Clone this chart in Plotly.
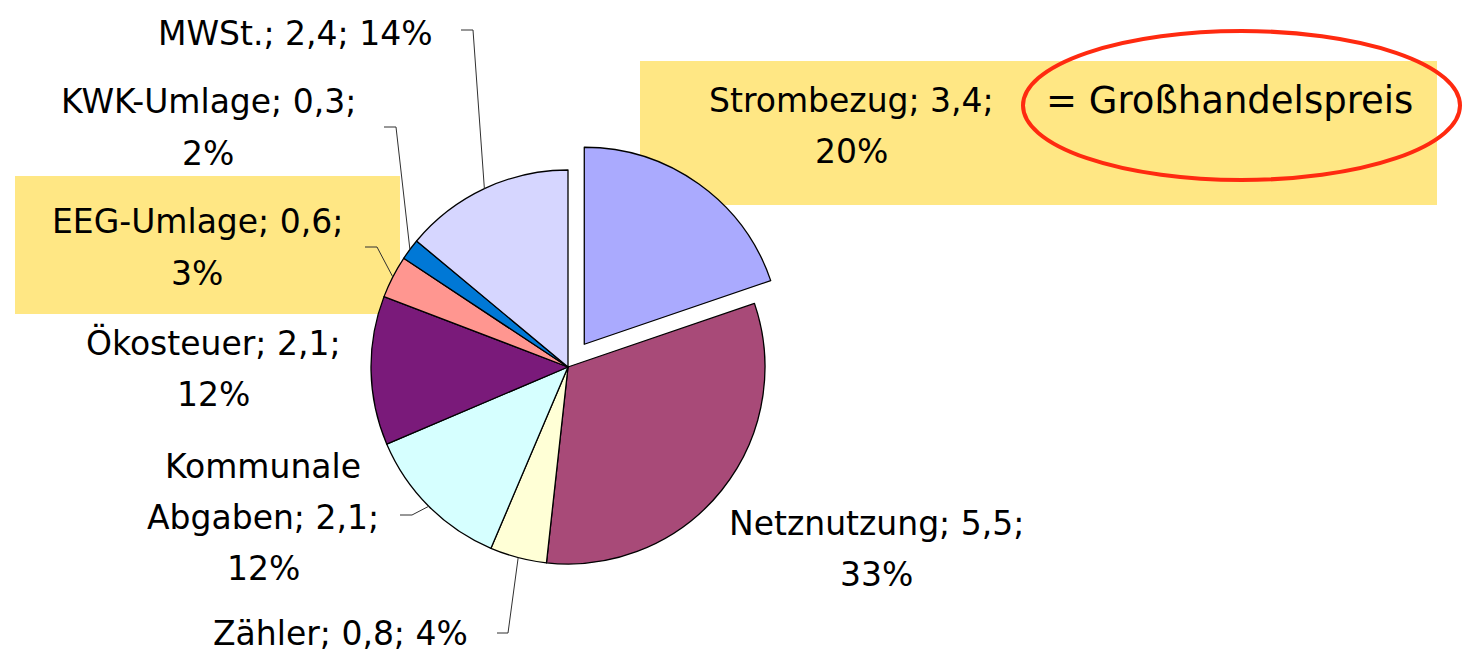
import math
import plotly.graph_objects as go

# ---------------- data ----------------
categories = ["Strombezug", "Netznutzung", "Zähler", "Kommunale Abgaben",
              "Ökosteuer", "EEG-Umlage", "KWK-Umlage", "MWSt."]
values = [3.4, 5.5, 0.8, 2.1, 2.1, 0.6, 0.3, 2.4]
percents = [20, 33, 4, 12, 12, 3, 2, 14]
note_text = "= Großhandelspreis"

# ---------------- style / layout ----------------
W, H = 1463, 654
colors = ["#AAAAFE", "#A84A78", "#FFFFD6", "#D6FFFF",
          "#7A1A7A", "#FF9690", "#0078D6", "#D6D6FF"]
pulls = [0.142, 0, 0, 0, 0, 0, 0, 0]
FONT = "DejaVu Sans"
FS = 33
LINE_H = 51

# pie geometry (pixels)
PCX, PCY, PR = 568, 367, 197
half = PR * (1 + max(pulls))


def px(x):
    return x / W


def py(y):
    return 1 - y / H


# label placement: centre x, first-line y, tokens per line
label_layout = {
    "Strombezug": (851, 100, [2, 1]),
    "Netznutzung": (876, 523, [2, 1]),
    "Zähler": (340, 633, [3]),
    "Kommunale Abgaben": (263, 466, [1, 2, 1]),
    "Ökosteuer": (213, 343, [2, 1]),
    "EEG-Umlage": (197, 222, [2, 1]),
    "KWK-Umlage": (208, 102, [2, 1]),
    "MWSt.": (295, 33, [3]),
}
# leader lines: text-side start x, elbow x, y
leader_layout = {
    "MWSt.": (461, 473, 30),
    "KWK-Umlage": (384, 396, 127),
    "EEG-Umlage": (365, 377, 247),
    "Kommunale Abgaben": (400, 412, 515),
    "Zähler": (497, 508, 633),
}


def fmt(v):
    return f"{v:.1f}".replace(".", ",")


fig = go.Figure()
fig.add_trace(go.Pie(
    labels=categories, values=values, sort=False, direction="clockwise",
    rotation=0, pull=pulls, textinfo="none", hoverinfo="label+value+percent",
    marker=dict(colors=colors, line=dict(color="#000000", width=1.3)),
    showlegend=False,
    domain=dict(x=[px(PCX - half), px(PCX + half)],
                y=[py(PCY + half), py(PCY - half)]),
))

shapes = []
annotations = []

# highlight boxes
shapes.append(dict(type="rect", xref="paper", yref="paper", layer="below",
                   x0=px(15), x1=px(400), y0=py(314), y1=py(176),
                   fillcolor="#FFE784", line=dict(width=0)))
shapes.append(dict(type="rect", xref="paper", yref="paper", layer="below",
                   x0=px(640), x1=px(1437), y0=py(205), y1=py(61),
                   fillcolor="#FFE784", line=dict(width=0)))
# red ellipse
shapes.append(dict(type="circle", xref="paper", yref="paper", layer="above",
                   x0=px(1023), x1=px(1460), y0=py(180), y1=py(31),
                   line=dict(color="#FF2A10", width=4)))

total = sum(values)
cum = 0.0
for cat, val, pct in zip(categories, values, percents):
    mid = (cum + val / 2) / total * 2 * math.pi
    cum += val
    text = f"{cat}; {fmt(val)}; {pct}%"
    tokens = text.split(" ")
    cx, y0, groups = label_layout[cat]
    i = 0
    for li, n in enumerate(groups):
        line = " ".join(tokens[i:i + n])
        i += n
        annotations.append(dict(
            x=px(cx), y=py(y0 + li * LINE_H), xref="paper", yref="paper",
            text=line, showarrow=False, xanchor="center", yanchor="middle",
            font=dict(family=FONT, size=FS, color="#000000")))
    if cat in leader_layout:
        sx, ex, ly = leader_layout[cat]
        ptx = PCX + PR * math.sin(mid)
        pty = PCY - PR * math.cos(mid)
        path = (f"M {px(sx)},{py(ly)} L {px(ex)},{py(ly)} "
                f"L {px(ptx)},{py(pty)}")
        shapes.append(dict(type="path", xref="paper", yref="paper",
                           path=path, line=dict(color="#303030", width=1)))

annotations.append(dict(
    x=px(1229), y=py(100), xref="paper", yref="paper", text=note_text,
    showarrow=False, xanchor="center", yanchor="middle",
    font=dict(family=FONT, size=37, color="#000000")))

fig.update_layout(
    width=W, height=H, margin=dict(l=0, r=0, t=0, b=0),
    paper_bgcolor="#FFFFFF", plot_bgcolor="#FFFFFF",
    shapes=shapes, annotations=annotations, showlegend=False,
)

fig.write_html("out.html", config={"displayModeBar": False},
               post_script="document.body.style.margin='0';")
